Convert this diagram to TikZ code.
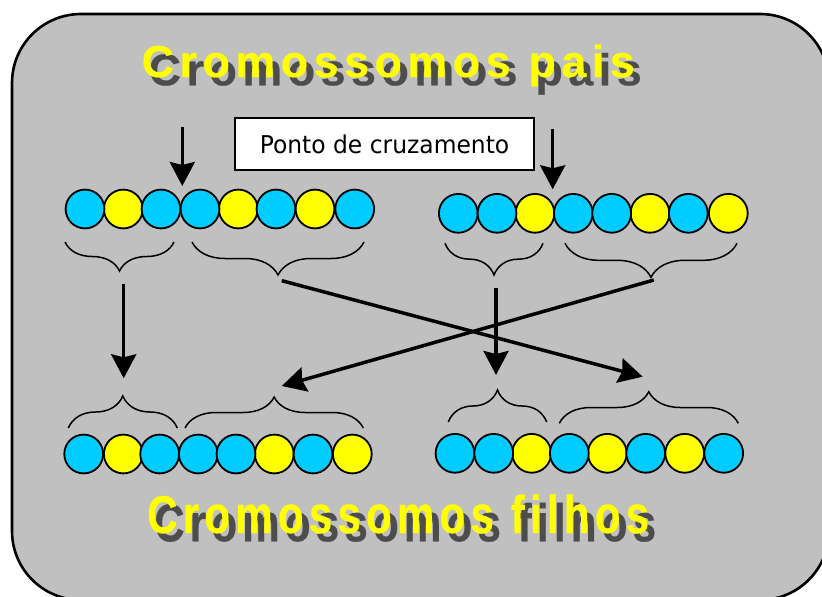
\documentclass[tikz,border=0pt]{standalone}
\usepackage{fontspec}
\usetikzlibrary{arrows.meta,decorations.pathreplacing}
\setmainfont{Liberation Sans}
\newfontfamily\titlefont{Liberation Sans Bold}[LetterSpace=12.5,FakeBold=0.5]
\newfontfamily\boxfont{DejaVu Sans}
\definecolor{bg}{HTML}{C0C0C0}
\definecolor{cb}{HTML}{00CCFF}
\definecolor{cy}{HTML}{FFFF00}
\definecolor{sh}{HTML}{4D4D4D}
\tikzset{
  bead/.style={circle, draw=black, line width=1.8pt, minimum size=38.8pt, inner sep=0pt},
  arr/.style={line width=3.5pt, -{Stealth[length=24pt,width=25pt,inset=3pt]}},
  brc/.style={decorate, decoration={brace, amplitude=#1}, line width=1.5pt},
  ttl/.style={anchor=base west, inner sep=0pt, font=\titlefont\fontsize{44.7}{50}\selectfont},
  lbl/.style={draw=black, fill=white, line width=1.5pt, minimum width=299pt, minimum height=52pt, inner sep=0pt, font=\boxfont\fontsize{24.5}{28}\selectfont}
}
\begin{document}
\begin{tikzpicture}[x=1pt,y=-1pt]
\useasboundingbox (0,0) rectangle (822,597);
\begin{scope}
\clip (0,0) rectangle (822,597);
\draw[line width=2.6pt, fill=bg, rounded corners=69pt] (12,14) rectangle (829,600);
\end{scope}
% titles
\node[ttl, text=sh] (t1s) at (148.5,85.3) {Cromossomos pais};
\node[ttl, text=cy] (t1) at (141.5,77) {Cromossomos pais};
\node[ttl, text=sh] (t2s) at (154,541.3) {\scalebox{0.94}[1.19]{Cromossomos filhos}};
\node[ttl, text=cy] (t2) at (147,533) {\scalebox{0.94}[1.19]{Cromossomos filhos}};
% label box
\node[lbl] (ponto) at (384.5,144) {\scalebox{0.955}[1]{Ponto de cruzamento}};
% parent 1
\foreach \n/\x/\c in {a2/123.3/cy, a5/238.3/cy, a7/315/cy, a1/85/cb, a3/161/cb, a4/200/cb, a6/276/cb, a8/354.7/cb}
  \node[bead, fill=\c] (\n) at (\x,209) {};
% parent 2
\foreach \n/\x/\c in {b3/535/cy, b6/650/cy, b8/728.3/cy, b1/458.3/cb, b2/497/cb, b4/573.3/cb, b5/611.7/cb, b7/688.3/cb}
  \node[bead, fill=\c] (\n) at (\x,213.3) {};
% child 1
\foreach \n/\x/\c in {c2/123.3/cy, c6/274.3/cy, c8/352.3/cy, c1/83.7/cb, c3/159.7/cb, c4/198.3/cb, c5/236/cb, c7/313/cb}
  \node[bead, fill=\c] (\n) at (\x,454) {};
% child 2
\foreach \n/\x/\c in {d3/531.7/cy, d5/607.3/cy, d7/684.7/cy, d1/455/cb, d2/493.7/cb, d4/569.3/cb, d6/645.7/cb, d8/723.7/cb}
  \node[bead, fill=\c] (\n) at (\x,453.3) {};
% braces
\draw[brc=29pt] (174,242) -- (65,242);
\draw[brc=33pt] (364,242) -- (192,242);
\draw[brc=31.7pt] (543,243.3) -- (445,243.3);
\draw[brc=34pt] (737,243.3) -- (565,243.3);
\draw[brc=32pt] (68.3,428) -- (177.3,428);
\draw[brc=31pt] (185,428) -- (363.3,428);
\draw[brc=32pt] (448.3,422) -- (546.7,422);
\draw[brc=31.6pt] (559.3,423.3) -- (738.3,423.3);
% arrow ends
\coordinate (x1s) at (182.3,126.7);
\coordinate (x1e) at (182.3,186);
\coordinate (x2s) at (552.7,129.3);
\coordinate (x2e) at (552.7,189.3);
\coordinate (l1s) at (123.7,284);
\coordinate (l1e) at (123.7,378.3);
\coordinate (d1s) at (281.8,280.7);
\coordinate (d1e) at (642.7,376.7);
\coordinate (d2s) at (653.8,280);
\coordinate (d2e) at (281.8,386);
\coordinate (m1s) at (496,288.3);
\coordinate (m1e) at (496,375);
\draw[arr] (x1s) -- (x1e);
\draw[arr] (x2s) -- (x2e);
\draw[arr] (l1s) -- (l1e);
\draw[arr] (d1s) -- (d1e);
\draw[arr] (d2s) -- (d2e);
\draw[arr] (m1s) -- (m1e);
\end{tikzpicture}
\end{document}
